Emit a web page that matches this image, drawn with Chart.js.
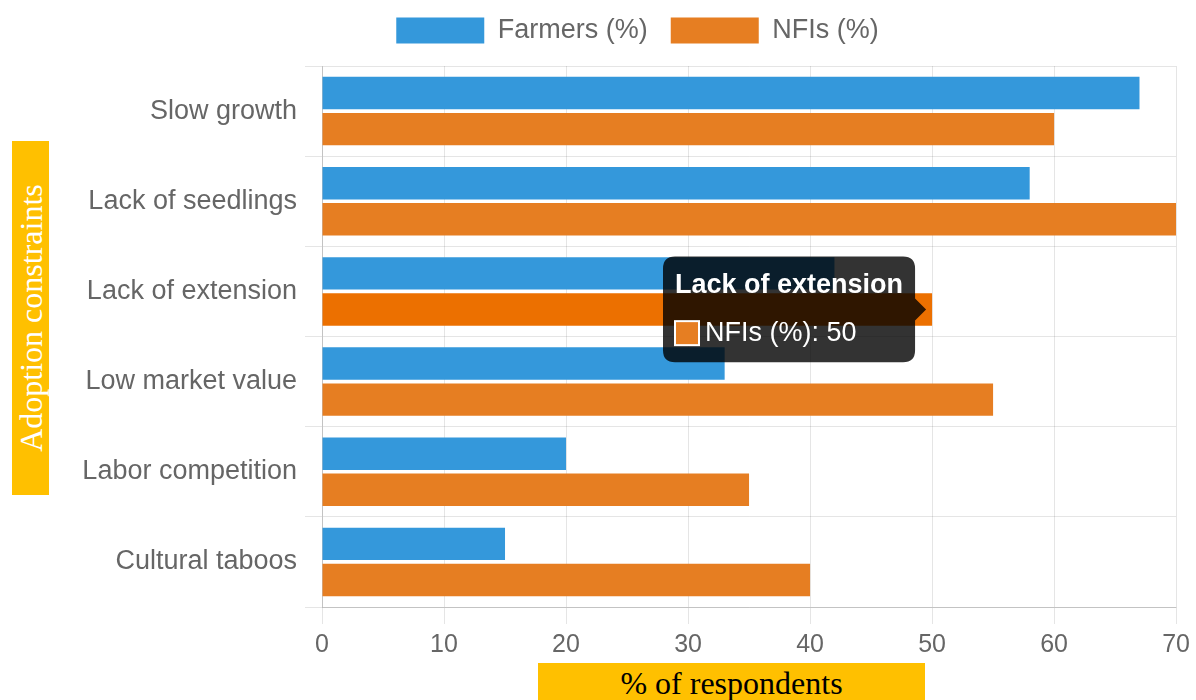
<!DOCTYPE html>
<html>
<head>
<meta charset="utf-8">
<title>Adoption constraints</title>
<script src="https://cdn.jsdelivr.net/npm/chart.js@4.4.1/dist/chart.umd.min.js"></script>
<style>
  html, body { margin: 0; padding: 0; background: #ffffff; overflow: hidden; }
  #wrap { position: relative; width: 1196px; height: 700px; }
  #chart { position: absolute; left: 0; top: 0; }
  .axis-title {
    position: absolute;
    background: #ffc000;
    font-family: "Liberation Serif", "Times New Roman", serif;
    font-size: 32px;
    white-space: nowrap;
    overflow: hidden;
  }
  #ytitle { left: 12px; top: 141px; width: 37px; height: 354px; color: #ffffff; }
  #ytitle span {
    position: absolute; left: 50%; top: 50%;
    transform: translate(-50%, -50%) rotate(-90deg);
    line-height: 37px;
  }
  #xtitle { left: 538px; top: 663px; width: 387px; height: 40px; color: #000000;
            text-align: center; line-height: 40px; }
</style>
</head>
<body>
<div id="wrap">
  <canvas id="chart" width="1196" height="700"></canvas>
  <div id="ytitle" class="axis-title"><span>Adoption constraints</span></div>
  <div id="xtitle" class="axis-title">% of respondents</div>
</div>
<script>
// Constraint categories and share of respondents citing each one
const categories = [
  "Slow growth",
  "Lack of seedlings",
  "Lack of extension",
  "Low market value",
  "Labor competition",
  "Cultural taboos"
];
const farmers = [67, 58, 42, 33, 20, 15];
const nfis = [60, 70, 50, 55, 35, 40];
const seriesNames = ["Farmers (%)", "NFIs (%)"];
const xTicks = [0, 10, 20, 30, 40, 50, 60, 70];

const BLUE = "#3498db";
const ORANGE = "#e67e22";
const ORANGE_HOVER = "#ec7000";
const TEXT = "#666666";
const FONT = "'Liberation Sans', Arial, Helvetica, sans-serif";

// Tooltip anchored at the end of the hovered bar
const tooltipPlugin = Chart.Tooltip || Chart.registry.getPlugin("tooltip");
tooltipPlugin.positioners.barEnd = function (items) {
  if (!items.length) return false;
  const el = items[0].element;
  return { x: el.x, y: el.y };
};

const chart = new Chart(document.getElementById("chart"), {
  type: "bar",
  data: {
    labels: categories,
    datasets: [
      {
        label: seriesNames[0],
        data: farmers,
        xAxisID: "x",
        yAxisID: "y",
        backgroundColor: BLUE,
        hoverBackgroundColor: BLUE
      },
      {
        label: seriesNames[1],
        data: nfis,
        xAxisID: "x",
        yAxisID: "y",
        backgroundColor: ORANGE,
        hoverBackgroundColor: ORANGE_HOVER
      }
    ]
  },
  options: {
    indexAxis: "y",
    responsive: false,
    animation: false,
    events: [],
    layout: { padding: { top: -6, right: 5, bottom: 0, left: 84 } },
    scales: {
      x: {
        min: 0,
        max: 70,
        afterBuildTicks: (scale) => { scale.ticks = xTicks.map(v => ({ value: v })); },
        afterFit: (scale) => { scale.height = 93; },
        grid: { color: "rgba(0,0,0,0.1)", tickLength: 17 },
        border: { color: "rgba(0,0,0,0.15)" },
        ticks: { color: TEXT, font: { family: FONT, size: 25 }, padding: 6 }
      },
      y: {
        type: "category",
        afterFit: (scale) => { scale.width = 238; },
        grid: { color: "rgba(0,0,0,0.1)", tickLength: 17 },
        border: { color: "rgba(0,0,0,0.15)" },
        ticks: { color: TEXT, font: { family: FONT, size: 27 }, padding: 8 }
      },
      // spacer between the legend and the plot area
      gapTop: {
        type: "linear",
        axis: "x",
        position: "top",
        afterFit: (scale) => { scale.height = 12; },
        grid: { display: false },
        border: { display: false },
        ticks: { display: false }
      },
      // spacer on the right of the plot area
      gapRight: {
        type: "linear",
        axis: "y",
        position: "right",
        afterFit: (scale) => { scale.width = 12; },
        grid: { display: false },
        border: { display: false },
        ticks: { display: false }
      }
    },
    plugins: {
      legend: {
        position: "top",
        labels: {
          color: TEXT,
          font: { family: FONT, size: 27 },
          boxWidth: 88,
          boxHeight: 26,
          padding: 23
        }
      },
      tooltip: {
        position: "barEnd",
        xAlign: "right",
        yAlign: "center",
        backgroundColor: "rgba(0,0,0,0.8)",
        titleColor: "#ffffff",
        bodyColor: "#ffffff",
        titleFont: { family: FONT, size: 27, weight: "bold" },
        bodyFont: { family: FONT, size: 27 },
        padding: { x: 12, y: 13 },
        titleMarginBottom: 15,
        cornerRadius: 12,
        caretSize: 11,
        caretPadding: 6,
        displayColors: true,
        boxWidth: 24,
        boxHeight: 24,
        boxPadding: 4,
        callbacks: {
          labelColor: () => ({
            borderColor: "#ffffff",
            backgroundColor: ORANGE,
            borderWidth: 2
          })
        }
      }
    }
  }
});

// Highlight the NFIs bar for "Lack of extension" with its tooltip
const active = [{ datasetIndex: 1, index: 2 }];
chart.setActiveElements(active);
chart.tooltip.setActiveElements(active, { x: 0, y: 0 });
chart.update();
</script>
</body>
</html>
